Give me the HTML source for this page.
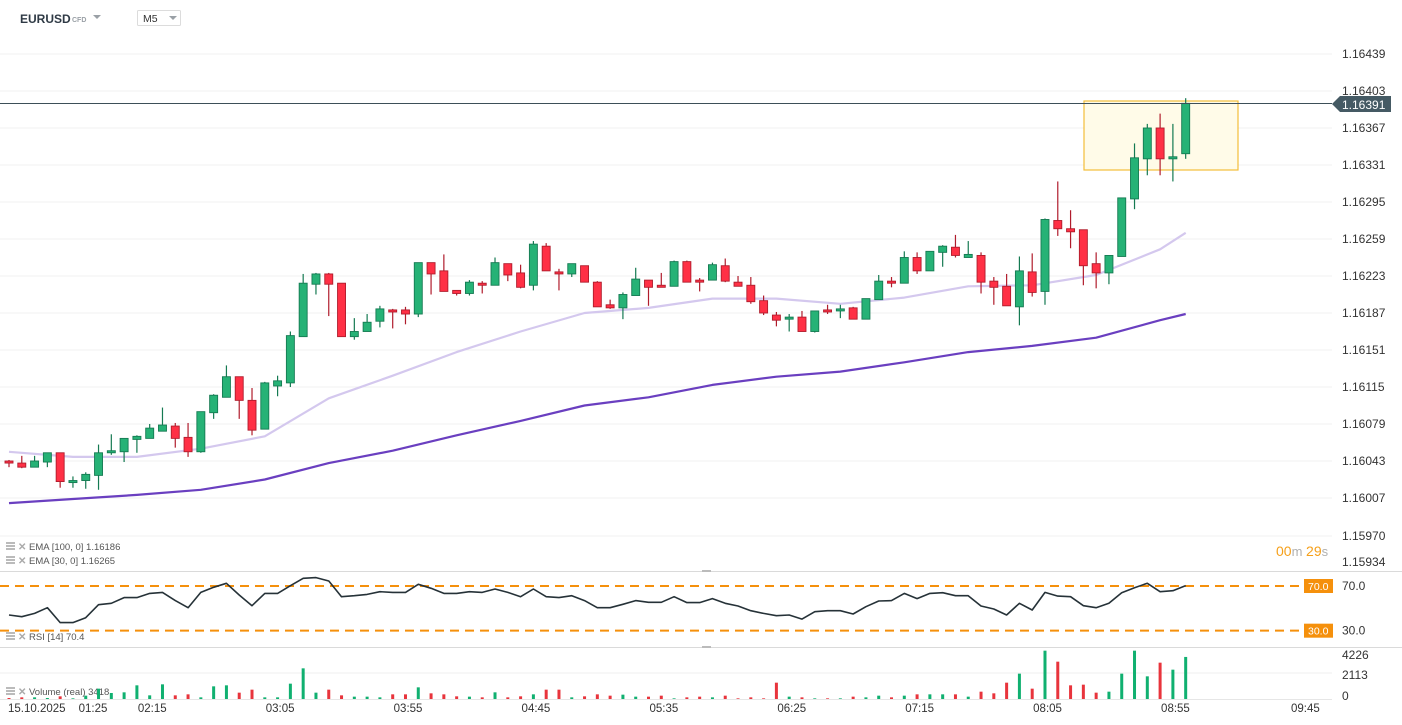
<!DOCTYPE html>
<html><head><meta charset="utf-8">
<style>
html,body{margin:0;padding:0;background:#fff;width:1402px;height:725px;overflow:hidden;font-family:"Liberation Sans",sans-serif;}
svg{position:absolute;left:0;top:0;}
</style></head>
<body>
<svg id="chart" width="1402" height="725" xmlns="http://www.w3.org/2000/svg" font-family="Liberation Sans, sans-serif">
  <g id="grid"></g>
  <rect x="1084" y="101" width="154" height="69" fill="#fffbe8" stroke="#f3bd3a" stroke-width="1.2"/>
  <g id="ema"></g>
  <g id="candles"></g>
  <g id="ylabels"></g>
  <line x1="0" y1="103.5" x2="1332" y2="103.5" stroke="#3d4f58" stroke-width="1"/>
  <g>
    <path d="M1332 104 L1340 96 L1391 96 L1391 112 L1340 112 Z" fill="#455a64"/>
    <text x="1342" y="109" font-size="12" fill="#fff">1.16391</text>
  </g>
  <!-- header -->
  <text x="20" y="23" font-size="12" font-weight="bold" fill="#2f3a45">EURUSD</text>
  <text x="72" y="22" font-size="7" font-weight="bold" fill="#9aa0a6">CFD</text>
  <path d="M93 15 L101 15 L97 19 Z" fill="#9aa0a6"/>
  <g>
    <rect x="137.5" y="10.5" width="43" height="15" fill="#fff" stroke="#dcdcdc" rx="1"/>
    <text x="143" y="22" font-size="10.5" fill="#333">M5</text>
    <path d="M169 16 L177 16 L173 20 Z" fill="#9aa0a6"/>
  </g>
  <!-- legends -->
  <g id="legend" font-size="9.5" fill="#555"></g>
  <g font-size="14">
    <text x="1276" y="556"><tspan fill="#f6a01a">00</tspan><tspan fill="#b0b0b0" font-size="13">m </tspan><tspan fill="#f6a01a">29</tspan><tspan fill="#b0b0b0" font-size="13">s</tspan></text>
  </g>
  <!-- panels -->
  <line x1="0" y1="571.5" x2="1402" y2="571.5" stroke="#dadada"/>
  <line x1="0" y1="647.5" x2="1402" y2="647.5" stroke="#dadada"/>
  <rect x="702" y="570" width="9" height="2" fill="#bbb"/>
  <rect x="702" y="646" width="9" height="2" fill="#bbb"/>
  <g id="rsi"></g>
  <g id="vol"></g>
  <g id="xaxis" font-size="11.5" fill="#333"></g>
</svg>
<script>
const NS="http://www.w3.org/2000/svg";
// ---- data (price * 1e5) ----
const opens =[116043,116041,116037,116042,116051,116022,116024,116029,116051,116052,116064,116065,116072,116077,116066,116052,116090,116105,116125,116102,116074,116116,116119,116164,116215,116225,116216,116164,116169,116179,116190,116190,116186,116236,116228,116209,116206,116216,116214,116235,116226,116214,116252,116227,116225,116233,116217,116195,116192,116204,116219,116214,116213,116237,116219,116219,116233,116217,116214,116199,116185,116181,116183,116169,116190,116189,116192,116181,116200,116218,116216,116241,116228,116246,116251,116241,116243,116218,116213,116193,116227,116208,116277,116269,116268,116235,116226,116242,116298,116337,116367,116337,116342];
const highs =[116044,116048,116048,116051,116051,116028,116032,116059,116069,116065,116068,116079,116095,116080,116080,116091,116108,116136,116125,116114,116120,116126,116169,116225,116226,116226,116216,116182,116186,116194,116191,116193,116236,116236,116244,116209,116219,116218,116241,116235,116234,116257,116255,116230,116235,116233,116218,116200,116207,116231,116219,116226,116238,116238,116221,116236,116240,116223,116222,116204,116188,116186,116189,116189,116195,116195,116193,116201,116224,116222,116247,116246,116247,116253,116263,116257,116246,116222,116225,116242,116245,116279,116315,116287,116268,116246,116243,116299,116352,116371,116381,116371,116396];
const lows  =[116037,116036,116037,116037,116017,116017,116016,116015,116049,116042,116051,116065,116072,116056,116047,116051,116084,116105,116084,116068,116074,116106,116115,116164,116205,116184,116164,116161,116169,116173,116172,116176,116183,116205,116208,116204,116204,116206,116214,116218,116211,116209,116228,116209,116222,116217,116193,116191,116181,116204,116194,116212,116213,116217,116208,116219,116217,116213,116196,116185,116174,116169,116169,116168,116186,116182,116181,116181,116200,116212,116216,116225,116228,116232,116241,116241,116206,116195,116194,116175,116203,116195,116262,116250,116214,116211,116215,116242,116288,116321,116321,116315,116337];
const closes=[116041,116037,116043,116051,116023,116024,116030,116051,116053,116065,116067,116075,116078,116065,116052,116091,116107,116125,116102,116073,116119,116121,116165,116216,116225,116215,116164,116169,116178,116191,116188,116186,116236,116225,116208,116206,116217,116214,116236,116224,116212,116254,116228,116225,116235,116217,116193,116192,116205,116220,116212,116212,116237,116217,116217,116234,116218,116213,116198,116187,116180,116183,116169,116189,116188,116191,116181,116201,116218,116216,116241,116228,116247,116252,116243,116244,116217,116212,116194,116228,116207,116278,116269,116266,116233,116226,116243,116299,116338,116367,116337,116339,116391];
// EMA samples every 5 candles (last at index 92)
const emaIdx  =[0,5,10,15,20,25,30,35,40,45,50,55,60,65,70,75,80,85,90,92];
const ema30   =[116052,116047,116047,116055,116067,116104,116126,116149,116169,116187,116192,116201,116201,116196,116202,116213,116214,116224,116249,116265];
const ema100  =[116002,116006,116010,116015,116025,116041,116053,116068,116082,116097,116105,116117,116125,116130,116139,116149,116155,116163,116180,116186];
const rsi=[44.0,42.5,45.5,50.6,37.2,37.2,41.6,53.3,54.5,59.6,59.6,63.4,64.3,56.9,50.6,64.3,68.8,72.4,61.9,52.4,63.4,63.4,70.3,76.9,77.5,74.5,60.4,61.3,62.5,64.9,64.3,64.3,71.5,67.9,63.4,63.4,64.9,64.3,67.3,64.3,60.4,67.3,60.4,59.6,61.3,56.9,50.6,50.6,53.6,56.9,55.4,55.4,60.4,55.1,55.1,58.7,54.5,52.1,47.9,45.5,43.4,44.0,40.4,47.0,47.9,47.9,44.9,51.5,56.6,56.9,63.4,58.7,63.4,64.0,61.3,61.3,52.1,49.4,44.0,54.5,48.5,64.3,61.0,60.4,52.4,50.6,54.5,64.0,68.5,72.4,64.9,65.8,70.4];
const volume=[81,135,135,81,217,54,271,840,488,542,1111,298,1192,298,379,135,1029,1111,515,759,135,135,1246,2492,515,759,298,190,190,135,379,379,948,461,379,217,190,135,542,135,217,379,759,759,135,217,379,271,352,190,190,271,54,135,190,135,271,54,135,54,1327,190,135,54,54,54,190,135,271,135,271,379,379,379,379,190,596,461,1327,2059,840,3928,3034,1111,1165,515,596,2059,3928,1842,2953,2384,3418];
const priceTicks=[116439,116403,116367,116331,116295,116259,116223,116187,116151,116115,116079,116043,116007,115970,115934];
const timeLabels=["02:15","03:05","03:55","04:45","05:35","06:25","07:15","08:05","08:55","09:45"];
const rsiLevels=[70,30];
const volTicks=[4226,2113,0];
// ---- scales ----
const X=i=>9+12.79*i;
const Y=p=>91+(116403-p)*1.02778;
const RY=v=>586+(70-v)*1.117;
const VY=v=>699-v*26/2113;
function el(tag,attrs,parent){const e=document.createElementNS(NS,tag);for(const k in attrs)e.setAttribute(k,attrs[k]);parent.appendChild(e);return e;}
const G=id=>document.getElementById(id);
// grid + price labels
priceTicks.forEach((p,k)=>{
  const y=Y(p);
  if(y<570){const l=el('line',{x1:0,x2:1332,y1:y,y2:y,stroke:'#f0f0f0'},G('grid'));
  
  }
  const ty=(k===priceTicks.length-1)?566:y+4;
  const t=el('text',{x:1342,y:ty,'font-size':12,fill:'#333'},G('ylabels'));
  t.textContent=(p/100000).toFixed(5);
  
  
});
// EMA lines
[[ema30,'#d4c8ee',2.2,'ema-30-line'],[ema100,'#6a3fc0',2.2,'ema-100-line']].forEach(([arr,c,w,n])=>{
  const pts=emaIdx.map((i,k)=>X(i).toFixed(1)+','+Y(arr[k]).toFixed(1)).join(' ');
  const pl=el('polyline',{points:pts,fill:'none',stroke:c,'stroke-width':w,'stroke-linejoin':'round'},G('ema'));
  
  
});
// candles
opens.forEach((o,i)=>{
  const c=closes[i],up=c>=o,x=X(i);
  const g=el('g',{},G('candles'));
  
  
  const wc=up?'#157a52':'#b01c2c';
  el('line',{x1:x,x2:x,y1:Y(highs[i]),y2:Y(lows[i]),stroke:wc,'stroke-width':1.2},g);
  const yt=Y(Math.max(o,c)),yb=Y(Math.min(o,c));
  el('rect',{x:x-4,y:yt,width:8,height:Math.max(1.5,yb-yt),fill:up?'#26b276':'#ff3045',stroke:wc,'stroke-width':0.9},g);
});
// legend
[['EMA [100,  0] 1.16186',550],['EMA [30,  0] 1.16265',564],['RSI [14]  70.4',640],['Volume  (real)  3418',695]].forEach(([s,y])=>{
  const g=el('g',{},G('legend'));
  
  
  el('rect',{x:6,y:y-8,width:9,height:2,fill:'#bbb'},g);el('rect',{x:6,y:y-5,width:9,height:2,fill:'#bbb'},g);el('rect',{x:6,y:y-2,width:9,height:2,fill:'#bbb'},g);
  const t=el('text',{x:18,y:y,fill:'#aaa','font-size':10,'font-weight':'bold'},g);t.textContent='✕';
  const t2=el('text',{x:29,y:y,fill:'#555','font-size':9.5},g);t2.textContent=s;
});
// RSI
rsiLevels.forEach(v=>{
  const y=RY(v);
  const l=el('line',{x1:0,x2:1304,y1:y,y2:y,stroke:'#f5900c','stroke-width':2,'stroke-dasharray':'9 6'},G('rsi'));
  
  
  el('rect',{x:1304,y:y-7,width:29,height:14,fill:'#f5900c'},G('rsi'));
  const t=el('text',{x:1308,y:y+4,'font-size':10.5,fill:'#fff'},G('rsi'));t.textContent=v.toFixed(1);
  const t2=el('text',{x:1342,y:y+4,'font-size':12,fill:'#333'},G('rsi'));t2.textContent=v.toFixed(1);
  
  
});
const rl=el('polyline',{points:rsi.map((v,i)=>X(i).toFixed(1)+','+RY(v).toFixed(1)).join(' '),fill:'none',stroke:'#263238','stroke-width':1.6,'stroke-linejoin':'round'},G('rsi'));


// volume
el('line',{x1:0,x2:1332,y1:VY(2113),y2:VY(2113),stroke:'#efefef'},G('vol'));
el('line',{x1:0,x2:1332,y1:699.5,y2:699.5,stroke:'#e6e6e6'},G('vol'));
volume.forEach((v,i)=>{
  const up=closes[i]>=opens[i];
  const r=el('rect',{x:X(i)-1.5,y:VY(v),width:3,height:699-VY(v),fill:up?'#10b070':'#e8343c'},G('vol'));
  
  
});
const volLabelY=[659,679,700];
volTicks.forEach((v,k)=>{
  const t=el('text',{x:1342,y:volLabelY[k],'font-size':12,fill:'#333'},G('vol'));
  t.textContent=String(v);
  
  
});
// time axis
const d=el('text',{x:8,y:712},G('xaxis'));d.textContent='15.10.2025';


const f=el('text',{x:93,y:712,'text-anchor':'middle'},G('xaxis'));f.textContent='01:25';


timeLabels.forEach((s,k)=>{
  const t=el('text',{x:X(11.2+10*k)+(k===9?2:0),y:712,'text-anchor':'middle'},G('xaxis'));
  t.textContent=s;
  
  
});
</script>
</body></html>
